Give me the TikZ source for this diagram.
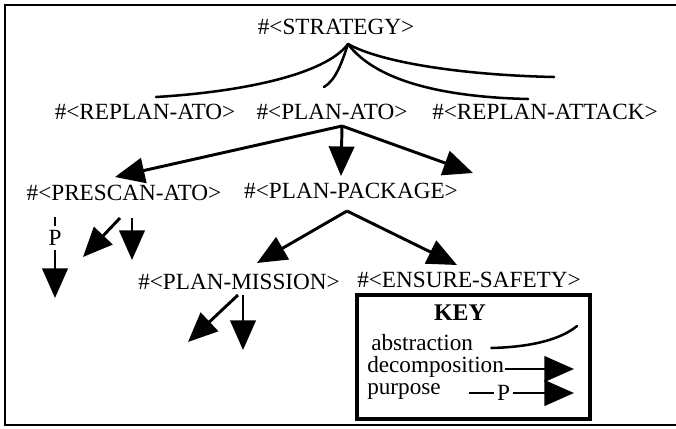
\documentclass[tikz,border=0pt]{standalone}
\usepackage{fontspec}
\setmainfont{Liberation Serif}
\usetikzlibrary{arrows.meta,calc}

\begin{document}
\begin{tikzpicture}[x=0.025cm, y=-0.025cm,
    every node/.style={font=\fontsize{16.5}{19}\selectfont, inner sep=1pt},
    abstr/.style={line width=1.8pt, line cap=round},
    decomp/.style={line width=2.1pt, -{Triangle[length=21pt, width=18pt]}}]
    \useasboundingbox (0,0) rectangle (676,428);
    % frame
    \draw [line width=2pt] (676,5) -- (5,5) -- (5,425) -- (676,425);

    \node (strategy) at (336,27) {\#<STRATEGY>};
    \node (replanato) at (145,112) {\#<REPLAN-ATO>};
    \node (planato) at (332,112) {\#<PLAN-ATO>};
    \node (replanattack) at (545,112) {\#<REPLAN-ATTACK>};
    \node (prescan) at (124,193) {\#<PRESCAN-ATO>};
    \node (package) at (351,191) {\#<PLAN-PACKAGE>};
    \node (mission) at (239,282) {\#<PLAN-MISSION>};
    \node (safety) at (469,280) {\#<ENSURE-SAFETY>};

    % abstraction
    \coordinate (absend) at (554,77);
    \draw [abstr] ($(strategy)+(12,17)$) .. controls (325,75) and (240,92) .. ($(replanato)+(11,-15)$);
    \draw [abstr] ($(strategy)+(12,17)$) .. controls (342,62) and (336,80) .. ($(planato)+(-8,-25)$);
    \draw [abstr] ($(strategy)+(12,17)$) .. controls (375,80) and (440,97) .. ($(replanattack)+(-17,-13)$);
    \draw [abstr] ($(strategy)+(12,17)$) .. controls (380,62) and (460,75) .. (absend);

    % decomposition
    \coordinate (planend) at (473,173);
    \draw [decomp] ($(planato)+(10,14)$) -- ($(prescan)+(-9,-16)$);
    \draw [decomp] ($(planato)+(10,14)$) -- ($(package)+(-10,-15)$);
    \draw [decomp] ($(planato)+(10,14)$) -- (planend);

    \coordinate (prescanend1) at (83,257);
    \coordinate (prescanend2) at (132,260);
    \draw [decomp] ($(prescan)+(-4,25)$) -- (prescanend1);
    \draw [decomp] ($(prescan)+(8,25)$) -- (prescanend2);

    \draw [decomp] ($(package)+(-4,20)$) -- ($(mission)+(18,-19)$);
    \draw [decomp] ($(package)+(-4,20)$) -- ($(safety)+(-12,-15)$);

    \coordinate (missionend1) at (188,342);
    \coordinate (missionend2) at (243,350);
    \draw [decomp] ($(mission)+(-1,13)$) -- (missionend1);
    \draw [decomp] ($(mission)+(4,13)$) -- (missionend2);

    % purpose
    \coordinate (purposeend) at (55,298);
    \draw [decomp] ($(prescan)+(-69,24)$) -- node [pos=.26, fill=white, inner sep=3pt] (p) {P} (purposeend);

    % key
    \draw [line width=3.5pt] (357,295) rectangle (590,419);
    \node [font=\fontsize{17}{19}\selectfont\bfseries] (key) at (460,313) {KEY};
    \node [anchor=west, inner sep=0pt] (abstraction) at (371,343) {abstraction};
    \node [anchor=west, inner sep=0pt] (decomposition) at (367,367) {decomposition};
    \node [anchor=west, inner sep=0pt] (purpose) at (367,391) {purpose};
    \coordinate (keyend1) at (577,326);
    \coordinate (keyend2) at (574,369);
    \coordinate (keyend3) at (574,393);
    \draw [abstr] ($(abstraction.east)+(18,5)$) .. controls (530,347) and (560,340) .. (keyend1);
    \draw [decomp] ($(decomposition.east)+(1,2)$) -- (keyend2);
    \draw [decomp] ($(purpose.east)+(28,2)$) -- node [pos=.33, fill=white, inner sep=2pt] (pk) {P} (keyend3);
\end{tikzpicture}
\end{document}
